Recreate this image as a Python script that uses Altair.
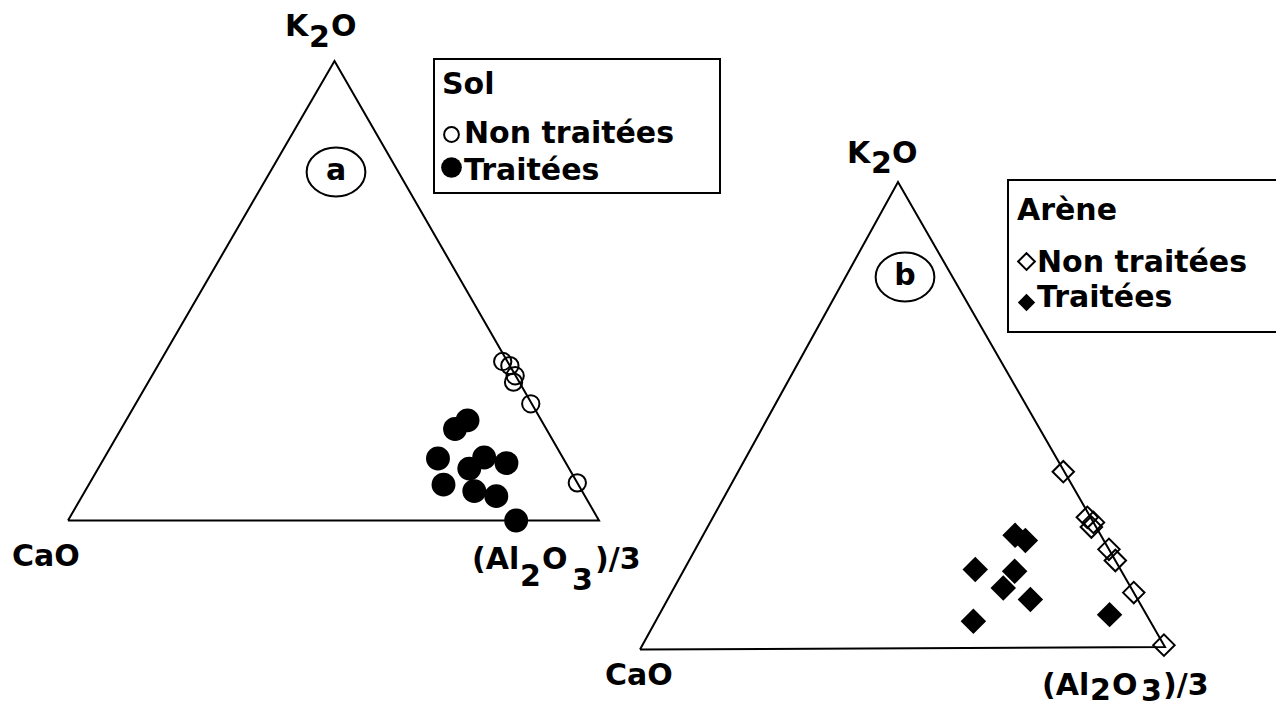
import altair as alt
import pandas as pd

# ---------------- data (percent of CaO, (Al2O3)/3, K2O) ----------------
# (a) Sol
sol_open_cao = [0.9, 0.0, 0.1, 1.1, 0.2, 0.0]
sol_open_k2o = [34.6, 33.7, 31.5, 30.1, 25.4, 8.2]
sol_trait_cao = [13.9, 17.2, 23.6, 25.4, 14.8, 11.2, 18.8, 20.3, 16.7, 15.6]
sol_trait_k2o = [21.8, 19.9, 13.5, 7.8, 13.7, 12.5, 11.3, 6.4, 5.3, 0.0]
# (b) Arène
arene_open_cao = [0.2, 0.6, 0.0, 0.9, 0.0, 0.0, 0.0, 0.0]
arene_open_k2o = [37.7, 27.9, 26.8, 25.8, 21.0, 18.6, 11.7, 0.4]
arene_trait_cao = [16.3, 14.9, 27.6, 20.3, 24.3, 20.4, 33.6, 7.0]
arene_trait_k2o = [24.1, 23.0, 16.8, 16.4, 12.8, 10.3, 5.7, 7.0]

legend_titles = ["Sol", "Arène"]
legend_items = ["Non traitées", "Traitées"]
panel_letters = ["a", "b"]

# ---------------- layout (page pixel frame) ----------------
TRI = {
    "a": {"CaO": (68, 520.5), "Al": (599, 520.5), "K": (334.5, 61)},
    "b": {"CaO": (640, 649.5), "Al": (1165, 647), "K": (898, 182)},
}
FONT = "DejaVu Sans"
FS = 30


def tern(tri, ca, k):
    al = 100.0 - ca - k
    v = TRI[tri]
    x = (ca * v["CaO"][0] + al * v["Al"][0] + k * v["K"][0]) / 100.0
    y = (ca * v["CaO"][1] + al * v["Al"][1] + k * v["K"][1]) / 100.0
    return x, y


def pts(tri, cas, ks, grp):
    rows = []
    for ca, k in zip(cas, ks):
        x, y = tern(tri, ca, k)
        rows.append({"x": x, "y": y, "grp": grp, "CaO": ca, "K2O": k, "Al2O3_3": 100 - ca - k})
    return rows


sol_open = pd.DataFrame(pts("a", sol_open_cao, sol_open_k2o, "Sol non traitées"))
sol_trait = pd.DataFrame(pts("a", sol_trait_cao, sol_trait_k2o, "Sol traitées"))
ar_open = pd.DataFrame(pts("b", arene_open_cao, arene_open_k2o, "Arène non traitées"))
ar_trait = pd.DataFrame(pts("b", arene_trait_cao, arene_trait_k2o, "Arène traitées"))

# triangle outlines from the three pure end-member compositions
outline = []
for t in ["a", "b"]:
    for i, (ca, k) in enumerate([(100, 0), (0, 0), (0, 100), (100, 0)]):
        x, y = tern(t, ca, k)
        outline.append({"tri": t, "i": i, "x": x, "y": y})
outline = pd.DataFrame(outline)

X = alt.X("x:Q", scale=alt.Scale(domain=[8, 1276], nice=False, zero=False), axis=None)
Y = alt.Y("y:Q", scale=alt.Scale(domain=[8, 704], nice=False, zero=False, reverse=True), axis=None)

tri_lines = alt.Chart(outline).mark_line(color="black", strokeWidth=2).encode(
    x=X, y=Y, detail="tri:N", order="i:Q"
)

open_c = alt.Chart(sol_open).mark_point(
    shape="circle", filled=False, color="black", strokeWidth=2, size=300, opacity=1
).encode(x=X, y=Y)
fill_c = alt.Chart(sol_trait).mark_point(
    shape="circle", filled=True, color="black", size=570, opacity=1
).encode(x=X, y=Y)
open_d = alt.Chart(ar_open).mark_point(
    shape="diamond", filled=False, color="black", strokeWidth=2, size=460, opacity=1
).encode(x=X, y=Y)
fill_d = alt.Chart(ar_trait).mark_point(
    shape="diamond", filled=True, color="black", size=650, opacity=1
).encode(x=X, y=Y)

# legend boxes
boxes = pd.DataFrame([
    {"x": 434, "x2": 720, "y": 59, "y2": 193},
    {"x": 1008, "x2": 1300, "y": 180, "y2": 332},
])
box_layer = alt.Chart(boxes).mark_rect(fill="white", stroke="black", strokeWidth=2).encode(
    x=X, x2="x2:Q", y=Y, y2="y2:Q"
)

leg_syms = pd.DataFrame([
    {"x": 451.5, "y": 134.5, "s": "oc"},
    {"x": 451.5, "y": 167.5, "s": "fc"},
    {"x": 1026.5, "y": 261.5, "s": "od"},
    {"x": 1026.5, "y": 302.5, "s": "fd"},
])
leg_oc = alt.Chart(leg_syms[leg_syms.s == "oc"]).mark_point(
    shape="circle", filled=False, color="black", strokeWidth=2, size=220, opacity=1).encode(x=X, y=Y)
leg_fc = alt.Chart(leg_syms[leg_syms.s == "fc"]).mark_point(
    shape="circle", filled=True, color="black", size=430, opacity=1).encode(x=X, y=Y)
leg_od = alt.Chart(leg_syms[leg_syms.s == "od"]).mark_point(
    shape="diamond", filled=False, color="black", strokeWidth=2, size=280, opacity=1).encode(x=X, y=Y)
leg_fd = alt.Chart(leg_syms[leg_syms.s == "fd"]).mark_point(
    shape="diamond", filled=True, color="black", size=300, opacity=1).encode(x=X, y=Y)

# labels (text pieces, left aligned on baseline)
labels = pd.DataFrame([
    # panel a vertices
    {"t": "K", "x": 285, "y": 36}, {"t": "2", "x": 309, "y": 47}, {"t": "O", "x": 331, "y": 36},
    {"t": "CaO", "x": 12, "y": 566},
    {"t": "(Al", "x": 472, "y": 569}, {"t": "2", "x": 520, "y": 586}, {"t": "O", "x": 542, "y": 569},
    {"t": "3", "x": 572, "y": 590}, {"t": ")/3", "x": 595, "y": 569},
    # panel b vertices
    {"t": "K", "x": 847, "y": 163}, {"t": "2", "x": 871, "y": 173}, {"t": "O", "x": 892, "y": 163},
    {"t": "CaO", "x": 605, "y": 685},
    {"t": "(Al", "x": 1042, "y": 695}, {"t": "2", "x": 1090, "y": 700}, {"t": "O", "x": 1112, "y": 695},
    {"t": "3", "x": 1141, "y": 701}, {"t": ")/3", "x": 1163, "y": 695},
    # legends
    {"t": legend_titles[0], "x": 442, "y": 94},
    {"t": legend_items[0], "x": 464, "y": 143},
    {"t": legend_items[1], "x": 464, "y": 180},
    {"t": legend_titles[1], "x": 1017, "y": 220},
    {"t": legend_items[0], "x": 1037, "y": 272},
    {"t": legend_items[1], "x": 1037, "y": 307},
])
text_layer = alt.Chart(labels).mark_text(
    align="left", baseline="alphabetic", font=FONT, fontSize=FS, fontWeight="bold", color="black"
).encode(x=X, y=Y, text="t:N")

# circled panel letters
ELLIPSE = "M -1 0 A 1 0.83 0 1 0 1 0 A 1 0.83 0 1 0 -1 0 Z"
letters = pd.DataFrame([
    {"t": panel_letters[0], "x": 336, "y": 172},
    {"t": panel_letters[1], "x": 905, "y": 277},
])
ell = alt.Chart(letters).mark_point(
    shape=ELLIPSE, filled=False, color="black", strokeWidth=2, size=3450, opacity=1
).encode(x=X, y=Y)
let_text = alt.Chart(letters).mark_text(
    align="center", baseline="middle", font=FONT, fontSize=FS, fontWeight="bold", color="black", dy=-1
).encode(x=X, y=Y, text="t:N")

chart = alt.layer(
    tri_lines, open_c, fill_c, open_d, fill_d, box_layer,
    leg_oc, leg_fc, leg_od, leg_fd, text_layer, ell, let_text
).properties(
    width=1268, height=696, padding=0, autosize=alt.AutoSizeParams(type="none"),
    background="white"
).configure_view(stroke=None)

chart.save("out.html", embed_options={"renderer": "svg", "actions": False})
